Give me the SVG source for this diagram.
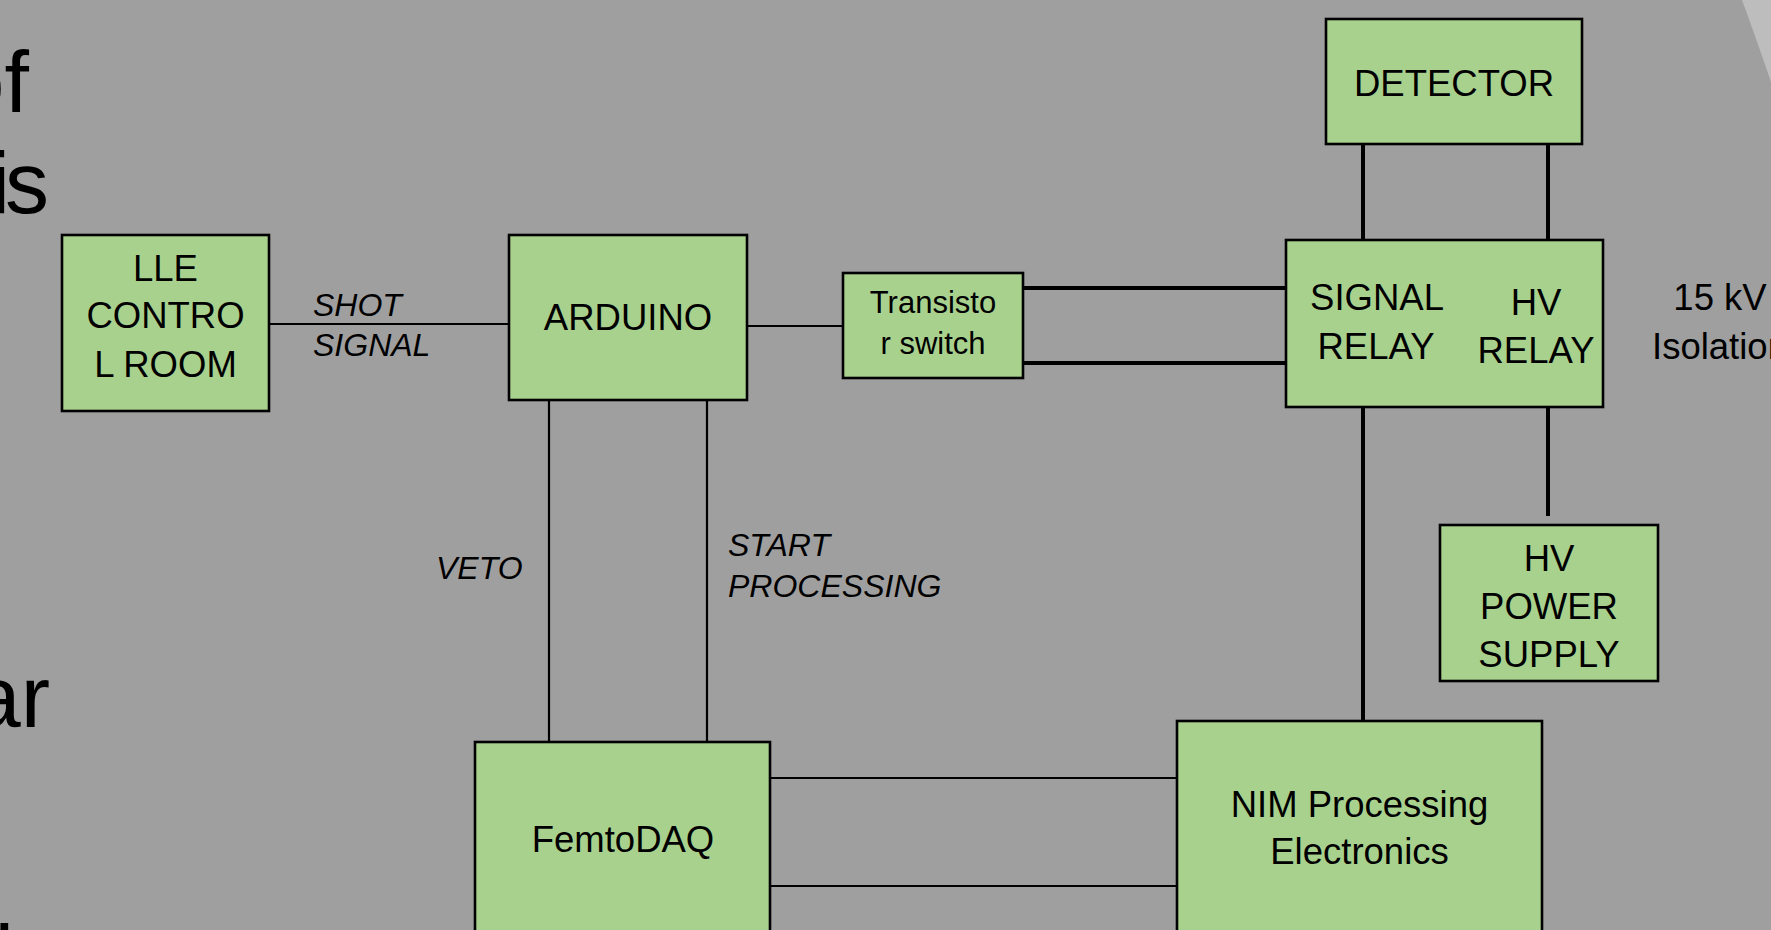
<svg xmlns="http://www.w3.org/2000/svg" width="1771" height="930" viewBox="0 0 1771 930">
<style>
.box{fill:#a9d18e;stroke:#000;stroke-width:2.6}
.t{font-family:"Liberation Sans",Arial,sans-serif;font-size:36.5px;fill:#000;text-anchor:middle}
.ts{font-family:"Liberation Sans",Arial,sans-serif;font-size:31px;fill:#000;text-anchor:middle}
.lab{font-family:"Liberation Sans",Arial,sans-serif;font-size:32px;font-style:italic;fill:#000}
.big{font-family:"Liberation Sans",Arial,sans-serif;font-size:88px;fill:#000;text-anchor:end}
.thin{stroke:#000;stroke-width:2.2;fill:none}
.thick{stroke:#000;stroke-width:4;fill:none}
</style>
<rect x="0" y="0" width="1771" height="930" fill="#9f9f9f"/>
<path d="M1742,0 Q1756,38 1771,82 L1771,0 Z" fill="#bdbdbd"/>
<g id="background-text">
<text class="big" x="29" y="112">of</text>
<text class="big" x="49" y="213">i<tspan dx="-5">s</tspan></text>
<text class="big" x="50" y="727">ar</text>
<text class="big" x="14" y="986">l</text>
</g>
<g id="connectors">
<line class="thin" x1="269" y1="324" x2="509" y2="324"/>
<line class="thin" x1="747" y1="326" x2="843" y2="326"/>
<line class="thick" x1="1023" y1="288" x2="1286" y2="288"/>
<line class="thick" x1="1023" y1="363" x2="1286" y2="363"/>
<line class="thick" x1="1363" y1="144" x2="1363" y2="240"/>
<line class="thick" x1="1548" y1="144" x2="1548" y2="240"/>
<line class="thick" x1="1363" y1="407" x2="1363" y2="721"/>
<line class="thick" x1="1548" y1="407" x2="1548" y2="516"/>
<line class="thin" x1="549" y1="400" x2="549" y2="742"/>
<line class="thin" x1="707" y1="400" x2="707" y2="742"/>
<line class="thin" x1="770" y1="778" x2="1177" y2="778"/>
<line class="thin" x1="770" y1="886" x2="1177" y2="886"/>
<text class="lab" x="313" y="316">SHOT</text>
<text class="lab" x="313" y="356">SIGNAL</text>
<text class="lab" x="436" y="579">VETO</text>
<text class="lab" x="728" y="556">START</text>
<text class="lab" x="728" y="597">PROCESSING</text>
</g>
<g id="lle">
<rect class="box" x="62" y="235" width="207" height="176"/>
<text class="t" x="165.5" y="281">LLE</text>
<text class="t" x="165.5" y="328">CONTRO</text>
<text class="t" x="165.5" y="377">L ROOM</text>
</g>
<g id="arduino">
<rect class="box" x="509" y="235" width="238" height="165"/>
<text class="t" x="628" y="330">ARDUINO</text>
</g>
<g id="transistor">
<rect class="box" x="843" y="273" width="180" height="105"/>
<text class="ts" x="933" y="313">Transisto</text>
<text class="ts" x="933" y="354">r switch</text>
</g>
<g id="detector">
<rect class="box" x="1326" y="19" width="256" height="125"/>
<text class="t" x="1454" y="96">DETECTOR</text>
</g>
<g id="relay">
<rect class="box" x="1286" y="240" width="317" height="167"/>
<text class="t" x="1377" y="310">SIGNAL</text>
<text class="t" x="1376" y="359">RELAY</text>
<text class="t" x="1536" y="315">HV</text>
<text class="t" x="1536" y="363">RELAY</text>
</g>
<g id="isolation">
<text class="t" x="1720" y="310">15 kV</text>
<text class="t" x="1720" y="359">Isolation</text>
</g>
<g id="hvps">
<rect class="box" x="1440" y="525" width="218" height="156"/>
<text class="t" x="1549" y="571">HV</text>
<text class="t" x="1549" y="619">POWER</text>
<text class="t" x="1549" y="667">SUPPLY</text>
</g>
<g id="femtodaq">
<rect class="box" x="475" y="742" width="295" height="200"/>
<text class="t" x="623" y="852">FemtoDAQ</text>
</g>
<g id="nim">
<rect class="box" x="1177" y="721" width="365" height="220"/>
<text class="t" x="1359.5" y="817">NIM Processing</text>
<text class="t" x="1359.5" y="864">Electronics</text>
</g>
</svg>
